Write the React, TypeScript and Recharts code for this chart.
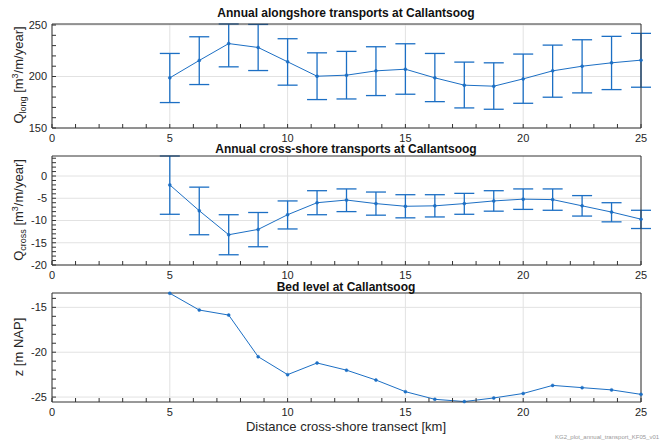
import React from "react";
import { LineChart, Line, XAxis, YAxis, CartesianGrid, ErrorBar } from "recharts";

// distance along the cross-shore transect [km]
const km = [5, 6.25, 7.5, 8.75, 10, 11.25, 12.5, 13.75, 15, 16.25, 17.5, 18.75, 20, 21.25, 22.5, 23.75, 25];

// alongshore transport, mean and visible error-bar ends
const qLong = [198.7, 215.6, 232, 228.2, 214.3, 200.3, 201.3, 205.5, 207.1, 198.7, 191.6, 190.6, 197.7, 205.5, 210, 213.3, 215.9];
const qLongHi = [222.4, 238.6, 251, 250.6, 236.7, 223, 224.4, 228.9, 231.8, 222.4, 214, 213.3, 221.8, 230.5, 235.7, 239, 241.9];
const qLongLo = [174.7, 192.2, 209.4, 205.8, 191.6, 177.6, 178.2, 181.5, 182.8, 175.6, 169.5, 168.2, 174, 179.9, 184.1, 187.3, 189.6];

// cross-shore transport
const qCross = [-2.0, -7.8, -13.2, -12.0, -8.7, -6.0, -5.4, -6.2, -6.8, -6.7, -6.2, -5.6, -5.2, -5.3, -6.7, -8.1, -9.7];
const qCrossHi = [4.5, -2.5, -8.7, -8.2, -5.6, -3.3, -2.9, -3.6, -4.2, -4.2, -3.9, -3.3, -2.9, -2.9, -4.4, -6.0, -7.7];
const qCrossLo = [-8.6, -13.2, -17.7, -15.9, -11.9, -8.7, -8.0, -8.8, -9.4, -9.2, -8.6, -7.9, -7.5, -7.7, -9.0, -10.3, -11.8];

// bed level [m NAP]
const bedLevel = [-13.43, -15.3, -15.86, -20.5, -22.5, -21.2, -22.0, -23.1, -24.4, -25.25, -25.5, -25.1, -24.6, -23.7, -23.95, -24.2, -24.7];

// ticks
const xMajor = [0, 5, 10, 15, 20, 25];
const xMinor = [0, 1, 2, 3, 4, 5, 6, 7, 8, 9, 10, 11, 12, 13, 14, 15, 16, 17, 18, 19, 20, 21, 22, 23, 24, 25];
const longMajor = [150, 200, 250];
const longMinor = [150, 160, 170, 180, 190, 200, 210, 220, 230, 240, 250];
const crossMajor = [-20, -15, -10, -5, 0];
const crossMinor = [-20, -19, -18, -17, -16, -15, -14, -13, -12, -11, -10, -9, -8, -7, -6, -5, -4, -3, -2, -1, 0, 1, 2, 3, 4];
const bedMajor = [-25, -20, -15];
const bedMinor = [-25, -24, -23, -22, -21, -20, -19, -18, -17, -16, -15, -14];

const BLUE = "#1c6fc4";
const AXIS = "#333333";
const TXT = "#262626";
const FONT = "'Liberation Sans', Arial, Helvetica, sans-serif";

const longData = km.map((x, i) => ({ x, y: qLong[i], e: [qLong[i] - qLongLo[i], qLongHi[i] - qLong[i]] }));
const crossData = km.map((x, i) => ({ x, y: qCross[i], e: [qCross[i] - qCrossLo[i], qCrossHi[i] - qCross[i]] }));
const bedData = km.map((x, i) => ({ x, y: bedLevel[i] }));

interface PanelProps {
  plotTop: number;
  plotHeight: number;
  data: any[];
  domain: [number, number];
  yMajor: number[];
  yMinor: number[];
  withErr?: boolean;
}

function Panel({ plotTop, plotHeight, data, domain, yMajor, yMinor, withErr }: PanelProps) {
  const xh = 22;
  return (
    <div style={{ position: "absolute", left: 0, top: plotTop - 10 }}>
      <LineChart
        width={662}
        height={plotHeight + 10 + xh}
        data={data}
        margin={{ top: 9, right: 20, bottom: 0, left: 0 }}
      >
        <CartesianGrid stroke="#e2e2e2" horizontalValues={yMajor} verticalValues={xMajor} />
        <XAxis
          dataKey="x"
          type="number"
          domain={[0, 25]}
          ticks={xMinor}
          interval={0}
          height={xh}
          tickSize={-4}
          tickMargin={10}
          stroke={AXIS}
          tickFormatter={(v: number) => (xMajor.includes(v) ? String(v) : "")}
          tick={{ fill: TXT, fontSize: 11, fontFamily: FONT }}
        />
        <XAxis
          xAxisId="t"
          orientation="top"
          dataKey="x"
          type="number"
          domain={[0, 25]}
          ticks={xMinor}
          interval={0}
          height={1}
          tickSize={-4}
          tick={false}
          stroke={AXIS}
        />
        <YAxis
          type="number"
          domain={domain}
          ticks={yMinor}
          interval={0}
          width={52}
          tickSize={-4}
          tickMargin={9}
          stroke={AXIS}
          tickFormatter={(v: number) => (yMajor.includes(v) ? String(v) : "")}
          tick={{ fill: TXT, fontSize: 11, fontFamily: FONT }}
        />
        <YAxis
          yAxisId="r"
          orientation="right"
          type="number"
          domain={domain}
          ticks={yMinor}
          interval={0}
          width={1}
          tickSize={-4}
          tick={false}
          stroke={AXIS}
        />
        <Line
          type="linear"
          dataKey="y"
          stroke={BLUE}
          strokeWidth={1}
          dot={{ r: 1.5, fill: BLUE, stroke: BLUE, strokeWidth: 0.5 }}
          isAnimationActive={false}
        >
          {withErr && <ErrorBar dataKey="e" direction="y" width={10} stroke={BLUE} strokeWidth={1.3} />}
        </Line>
      </LineChart>
    </div>
  );
}

export default function App() {
  return (
    <div style={{ position: "absolute", left: 0, top: 0, width: 662, height: 443, background: "#fff", overflow: "hidden" }}>
      <Panel plotTop={23.5} plotHeight={104} data={longData} domain={[150, 251]} yMajor={longMajor} yMinor={longMinor} withErr />
      <Panel plotTop={156} plotHeight={109} data={crossData} domain={[-20, 4.5]} yMajor={crossMajor} yMinor={crossMinor} withErr />
      <Panel plotTop={293} plotHeight={109} data={bedData} domain={[-25.55, -13.4]} yMajor={bedMajor} yMinor={bedMinor} />
      <svg width={662} height={443} style={{ position: "absolute", left: 0, top: 0, pointerEvents: "none" }} fontFamily={FONT}>
        <g fill="#111" fontSize={12} fontWeight="bold" textAnchor="middle">
          <text x={346} y={17}>Annual alongshore transports at Callantsoog</text>
          <text x={346} y={153}>Annual cross-shore transports at Callantsoog</text>
          <text x={346} y={291}>Bed level at Callantsoog</text>
        </g>
        <g fill={TXT} fontSize={13}>
          <text transform="translate(23,75) rotate(-90)" textAnchor="middle">
            Q<tspan fontSize={9} dy={3}>long</tspan>
            <tspan dy={-3}> [m</tspan>
            <tspan fontSize={9} dy={-5}>3</tspan>
            <tspan dy={5}>/m/year]</tspan>
          </text>
          <text transform="translate(23,210) rotate(-90)" textAnchor="middle">
            Q<tspan fontSize={9} dy={3}>cross</tspan>
            <tspan dy={-3}> [m</tspan>
            <tspan fontSize={9} dy={-5}>3</tspan>
            <tspan dy={5}>/m/year]</tspan>
          </text>
          <text transform="translate(23,347) rotate(-90)" textAnchor="middle">z [m NAP]</text>
          <text x={346} y={431} textAnchor="middle">Distance cross-shore transect [km]</text>
        </g>
        <text x={555} y={439} fontSize={6} fill="#999">KG2_plot_annual_transport_KF05_v01</text>
      </svg>
    </div>
  );
}
